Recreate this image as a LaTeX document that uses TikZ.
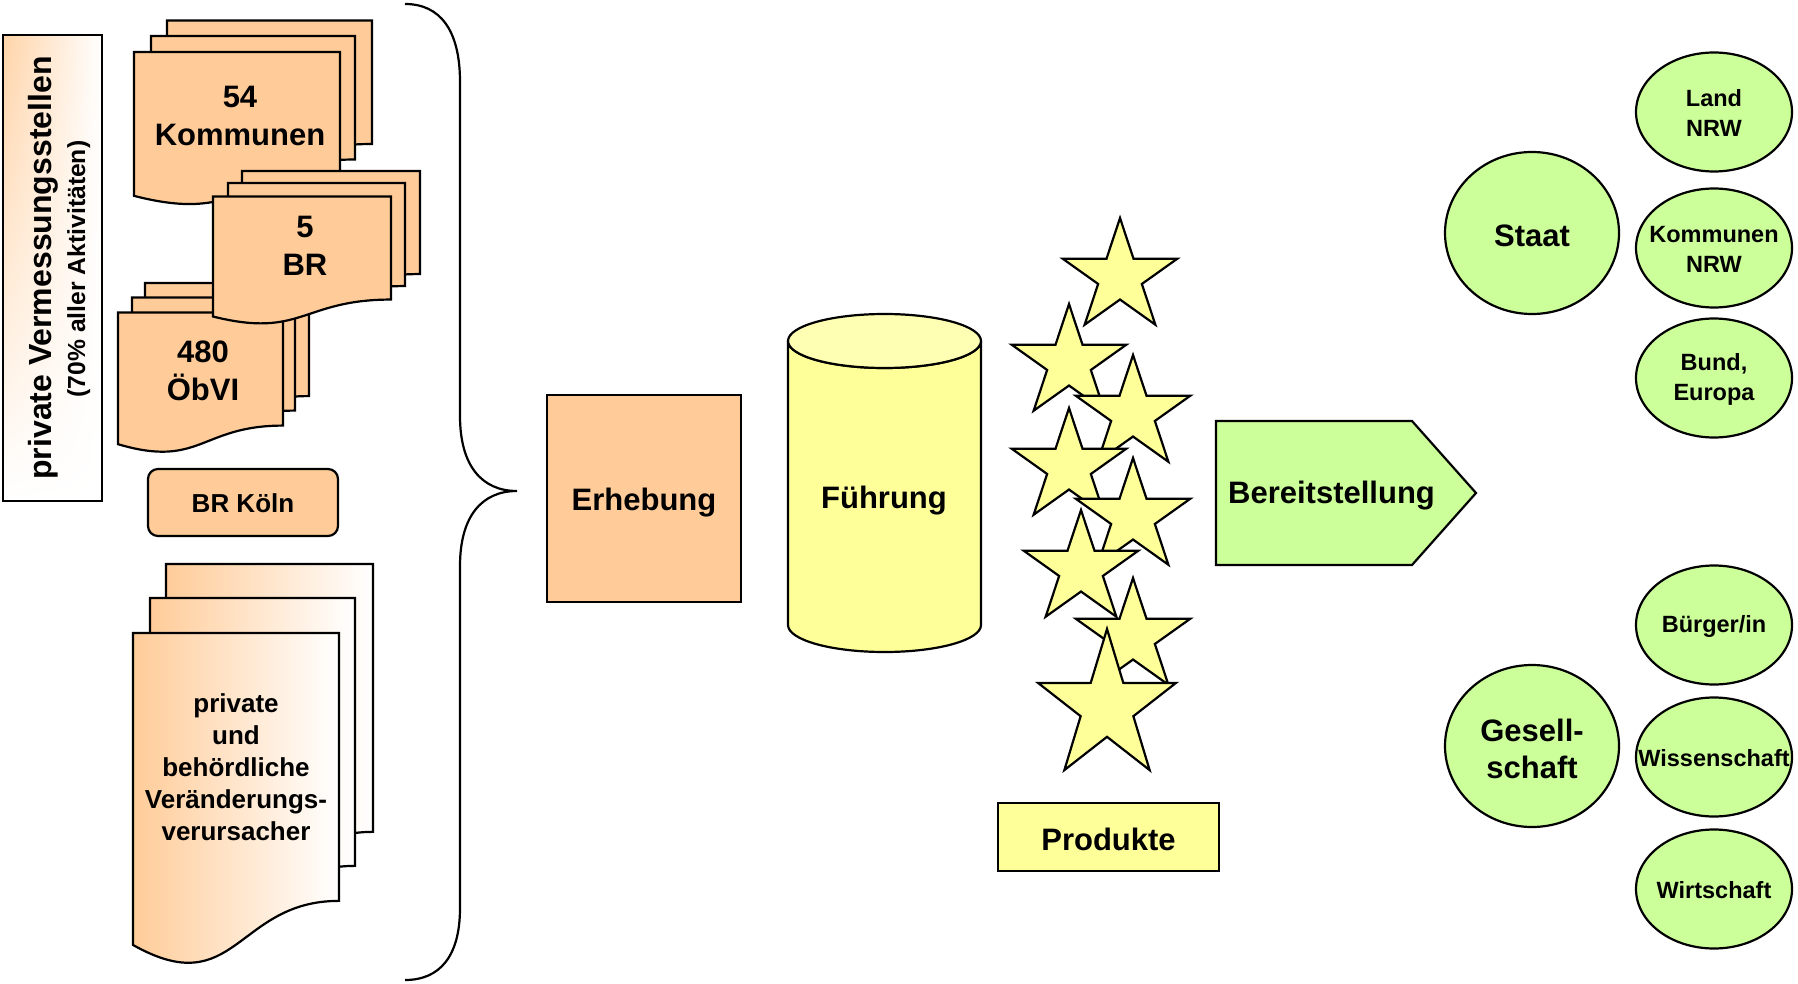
\documentclass[tikz,border=0pt]{standalone}
\usepackage{fontspec}
\setmainfont{Liberation Sans}
\usetikzlibrary{calc,shadings,shapes.geometric}
\definecolor{peach}{RGB}{255,204,153}
\definecolor{lgreen}{RGB}{204,255,153}
\definecolor{lyellow}{RGB}{255,255,153}
\definecolor{ltop}{RGB}{255,255,180}
\newcommand\fsz[2]{\fontsize{#1}{#2}\selectfont}
\newcommand\docsh[5]{%
 \pgfmathsetmacro\dxr{#2+#4}\pgfmathsetmacro\dxm{#2+0.5*#4}%
 \pgfmathsetmacro\dyr{#3+0.802*#5}\pgfmathsetmacro\dyc{#3+1.1075*#5}\pgfmathsetmacro\dyl{#3+0.934*#5}%
 \path[#1] (#2,#3) -- (\dxr,#3) -- (\dxr,\dyr) .. controls (\dxm,\dyr) and (\dxm,\dyc) .. (#2,\dyl) -- cycle;}
\newcommand\mystar[4]{%
 \begin{scope}[shift={(#1,#2)},xscale=#4]
 \path[starsty] (-90:#3) -- (-54:{0.382*#3}) -- (-18:#3) -- (18:{0.382*#3}) -- (54:#3) -- (90:{0.382*#3}) -- (126:#3) -- (162:{0.382*#3}) -- (198:#3) -- (234:{0.382*#3}) -- cycle;
 \end{scope}}
\tikzset{
 shp/.style={draw=black, line width=2.2pt, line join=miter},
 peachdoc/.style={shp, fill=peach},
 graddoc/.style={shp, left color=peach, right color=white},
 starsty/.style={shp, fill=lyellow},
 bigtxt/.style={font=\bfseries\fsz{31}{37}, align=center, inner sep=0pt, yshift=-2.5pt},
 stacktxt/.style={font=\bfseries\fsz{31}{38}, align=center, inner sep=0pt},
 midtxt/.style={font=\bfseries\fsz{26}{32}, align=center, inner sep=0pt},
 smalltxt/.style={font=\bfseries\fsz{23.5}{30}, align=center, inner sep=0pt, yshift=-1pt},
 bigell/.style={shp, fill=lgreen, ellipse, minimum width=174pt, minimum height=162pt, inner sep=0pt},
 smallell/.style={shp, fill=lgreen, ellipse, minimum width=156pt, minimum height=119pt, inner sep=0pt},
}
\begin{document}
\begin{tikzpicture}[x=1pt,y=-1pt]
\useasboundingbox (0,0) rectangle (1798,984);
% Kommunen stack
\docsh{peachdoc}{167}{20.5}{205}{154}
\docsh{peachdoc}{151}{36}{204}{154}
\docsh{peachdoc}{134}{52}{206}{154}
\node[stacktxt] (komm) at (240,116) {54\\Kommunen};
% ObVI stack
\docsh{peachdoc}{145}{283}{164}{141}
\docsh{peachdoc}{132}{297.5}{163}{141}
\docsh{peachdoc}{118}{312.5}{165}{141}
\node[stacktxt] (obvi) at (203,371) {480\\ÖbVI};
% BR stack
\docsh{peachdoc}{242}{171}{178}{128.5}
\docsh{peachdoc}{228}{183}{177}{128.5}
\docsh{peachdoc}{213}{196.5}{178}{128.5}
\node[stacktxt] (br) at (305,246) {5\\BR};
% BR Koeln
\draw[shp, fill=peach, rounded corners=10pt] (148,469) rectangle (338,536);
\node[midtxt] (brk) at (243,503) {BR Köln};
% bottom doc stack
\docsh{graddoc}{166}{564}{207}{334}
\docsh{graddoc}{150}{598}{205}{334}
\docsh{graddoc}{133}{633}{206}{334}
\node[midtxt] (verurs) at (236,767) {private\\und\\behördliche\\Veränderungs-\\verursacher};
% left box
\path[shp, upper left=peach!85, upper right=white, lower left=white, lower right=white] (3,35) rectangle (102,501);
\node[rotate=90, anchor=base, font=\bfseries\fsz{32}{36}, inner sep=0pt] (priv) at (51,268) {private Vermessungsstellen};
\node[rotate=90, anchor=base, font=\bfseries\fsz{24.7}{30}, inner sep=0pt] (akt) at (85,269) {(70\% aller Aktivitäten)};
% brace
\draw[line width=2.2pt] (405,4) .. controls (440,4) and (460,30) .. (460,82) -- (460,416) .. controls (460,466) and (482,491) .. (517,491) .. controls (482,491) and (460,516) .. (460,566) -- (460,908) .. controls (460,956) and (440,980) .. (405,980);
% Erhebung
\draw[shp, fill=peach] (547,395) rectangle (741,602);
\node[bigtxt] (erh) at (644,500) {Erhebung};
% Fuehrung cylinder
\path[shp, fill=lyellow] (788,341) -- (788,625) arc[start angle=180, end angle=0, x radius=96.5, y radius=27] -- (981,341) arc[start angle=0, end angle=180, x radius=96.5, y radius=27] -- cycle;
\path[shp, fill=ltop] (884.5,341) ellipse [x radius=96.5, y radius=27];
\node[bigtxt] (fue) at (884,498) {Führung};
% stars
\mystar{1120}{277}{59}{1.02}
\mystar{1069}{363}{59}{1.02}
\mystar{1133}{414}{59}{1.02}
\mystar{1069}{467}{59}{1.02}
\mystar{1133}{517}{59}{1.02}
\mystar{1081}{569}{59}{1.02}
\mystar{1133}{637}{59}{1.02}
\mystar{1107}{707}{78}{0.93}
% Produkte
\draw[shp, fill=lyellow] (998,803) rectangle (1219,871);
\node[bigtxt] (prod) at (1108.5,837) {Produkte};
% Bereitstellung
\path[shp, fill=lgreen] (1216,421) -- (1412,421) -- (1476,493) -- (1412,565) -- (1216,565) -- cycle;
\node[bigtxt, anchor=west] (bereit) at (1228,493) {Bereitstellung};
% circles
\node[bigell] (staat) at (1532,233) {};
\node[bigtxt] at (staat.center) {Staat};
\node[bigell] (ges) at (1532,746) {};
\node[bigtxt] at (ges.center) {Gesell-\\schaft};
\node[smallell] (land) at (1714,112) {};
\node[smalltxt] at (land.center) {Land\\NRW};
\node[smallell] (kommnrw) at (1714,248) {};
\node[smalltxt] at (kommnrw.center) {Kommunen\\NRW};
\node[smallell] (bund) at (1714,378) {};
\node[smalltxt] at (bund.center) {Bund,\\Europa};
\node[smallell] (buerg) at (1714,625) {};
\node[smalltxt] at (buerg.center) {Bürger/in};
\node[smallell] (wiss) at (1714,757) {};
\node[smalltxt] at (wiss.center) {Wissenschaft};
\node[smallell] (wirt) at (1714,889) {};
\node[smalltxt] at (wirt.center) {Wirtschaft};
\end{tikzpicture}
\end{document}
